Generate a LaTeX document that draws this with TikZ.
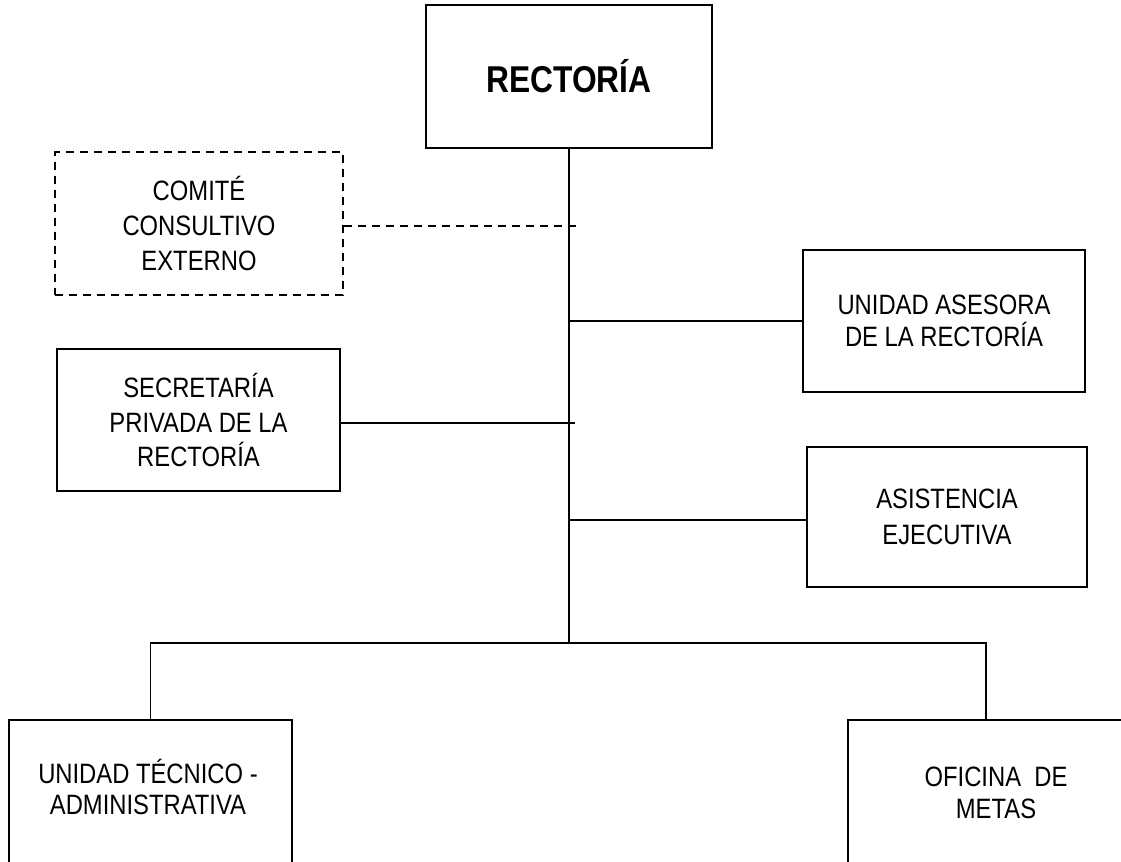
\documentclass[tikz,border=0pt]{standalone}
\usepackage{fontspec}
\setmainfont{Liberation Sans}[FakeStretch=0.85]
\usetikzlibrary{positioning}
\tikzset{
  unit/.style={draw, line width=1.3pt, align=center, inner sep=0pt,
    font=\fontsize{21}{26}\selectfont},
  advisory/.style={unit, dashed, dash pattern=on 6pt off 4.5pt},
  boxtext/.style={align=center, inner sep=0pt, font=\fontsize{21}{23.5}\selectfont},
  link/.style={line width=1.3pt}
}

\begin{document}
\begin{tikzpicture}[x=0.75pt, y=-0.75pt]
    \path[use as bounding box, clip] (0,0) rectangle (1121,861);

    \node[unit, minimum width=215pt, minimum height=107pt,
      font=\bfseries\fontsize{28}{34}\selectfont] (rect) at (569,76.5) {RECTORÍA};

    \node[advisory, minimum width=216pt, minimum height=107pt] (comite) at (199,223.5)
      {COMITÉ\\CONSULTIVO\\EXTERNO};
    \node[unit, minimum width=211.5pt, minimum height=106.5pt,
      font=\fontsize{21}{24}\selectfont] (asesora) at (944,321)
      {UNIDAD ASESORA\\DE LA RECTORÍA};
    \node[unit, minimum width=212pt, minimum height=107pt] (secret) at (198.5,420)
      {SECRETARÍA\\PRIVADA DE LA\\RECTORÍA};
    \node[unit, minimum width=210pt, minimum height=105pt,
      font=\fontsize{21}{27}\selectfont] (asist) at (947,517)
      {ASISTENCIA\\EJECUTIVA};

    \node[unit, minimum width=212pt, minimum height=135pt, anchor=north] (tecnica) at (150.5,719) {};
    \node[boxtext] (tecnicatxt) at (148,787) {UNIDAD TÉCNICO -\\ADMINISTRATIVA};
    \node[unit, minimum width=207pt, minimum height=135pt, anchor=north] (metas) at (986,719) {};
    \node[boxtext] (metastxt) at (996,793) {OFICINA~ DE\\METAS};

    \coordinate (c1) at (577,226);
    \coordinate (t1) at (569,321);
    \coordinate (s1) at (575,423);
    \coordinate (t2) at (569,520);
    \coordinate (bus) at (569,643);

    \draw[link] (rect.south) -- (bus);
    \draw[link, dashed, dash pattern=on 6pt off 4.5pt] (comite.east |- c1) -- (c1);
    \draw[link] (t1) -- (asesora.west);
    \draw[link] (secret.east |- s1) -- (s1);
    \draw[link] (t2) -- (asist.west |- t2);
    \draw[link] (tecnica.north) |- (bus) -| (metas.north);
  \end{tikzpicture}
\end{document}
